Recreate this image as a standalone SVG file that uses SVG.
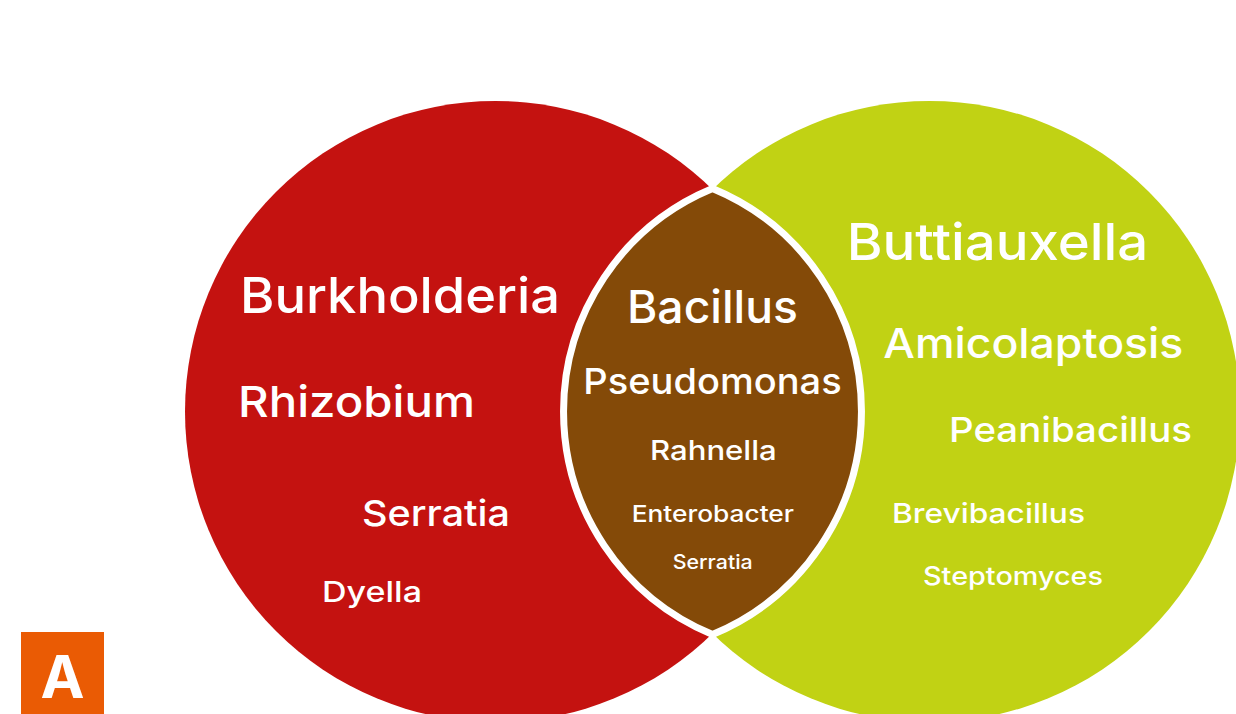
<svg xmlns="http://www.w3.org/2000/svg" width="1236" height="714" viewBox="0 0 1236 714">
  <style>
    .t { fill: #ffffff; font-family: Inter, "Open Sans", "Liberation Sans", sans-serif; font-weight: 500; }
    .badge { fill: #ffffff; font-family: Inter, "Liberation Sans", sans-serif; font-weight: 700; }
  </style>
  <rect x="0" y="0" width="1236" height="714" fill="#ffffff"/>
  <g id="set-left">
    <circle cx="495.5" cy="411.5" r="310.5" fill="#C41210"/>
    <text class="t" x="240" y="313" font-size="50" textLength="320" lengthAdjust="spacingAndGlyphs">Burkholderia</text>
    <text class="t" x="238" y="417" font-size="43" textLength="237" lengthAdjust="spacingAndGlyphs">Rhizobium</text>
    <text class="t" x="362" y="526" font-size="36" textLength="148" lengthAdjust="spacingAndGlyphs">Serratia</text>
    <text class="t" x="322" y="602.3" font-size="28.5" textLength="100" lengthAdjust="spacingAndGlyphs">Dyella</text>
  </g>
  <g id="set-right">
    <circle cx="929.5" cy="411.5" r="310.5" fill="#C1D214"/>
    <text class="t" x="846.7" y="260" font-size="50.5" textLength="301.6" lengthAdjust="spacingAndGlyphs">Buttiauxella</text>
    <text class="t" x="883.3" y="358.3" font-size="41" textLength="300" lengthAdjust="spacingAndGlyphs">Amicolaptosis</text>
    <text class="t" x="949" y="442" font-size="34.5" textLength="243" lengthAdjust="spacingAndGlyphs">Peanibacillus</text>
    <text class="t" x="892" y="523" font-size="27.5" textLength="193" lengthAdjust="spacingAndGlyphs">Brevibacillus</text>
    <text class="t" x="923" y="585" font-size="25" textLength="180" lengthAdjust="spacingAndGlyphs">Steptomyces</text>
  </g>
  <g id="set-overlap">
    <path d="M712.5,188.5 A241.4,241.4 0 0 0 712.5,634.5 A241.4,241.4 0 0 0 712.5,188.5 Z" fill="#844A08" stroke="#ffffff" stroke-width="7" stroke-linejoin="miter"/>
    <text class="t" x="627" y="322.7" font-size="45" textLength="171" lengthAdjust="spacingAndGlyphs">Bacillus</text>
    <text class="t" x="583.3" y="394.3" font-size="36" textLength="258.4" lengthAdjust="spacingAndGlyphs">Pseudomonas</text>
    <text class="t" x="650" y="460" font-size="27.5" textLength="126.7" lengthAdjust="spacingAndGlyphs">Rahnella</text>
    <text class="t" x="631.7" y="521.7" font-size="23" textLength="162.3" lengthAdjust="spacingAndGlyphs">Enterobacter</text>
    <text class="t" x="672.7" y="569.3" font-size="19.7" textLength="80" lengthAdjust="spacingAndGlyphs">Serratia</text>
  </g>
  <g id="panel-label">
    <rect x="21" y="632" width="83" height="82" fill="#EA5B04"/>
    <text class="badge" x="62.5" y="698" font-size="59" text-anchor="middle">A</text>
  </g>
</svg>
